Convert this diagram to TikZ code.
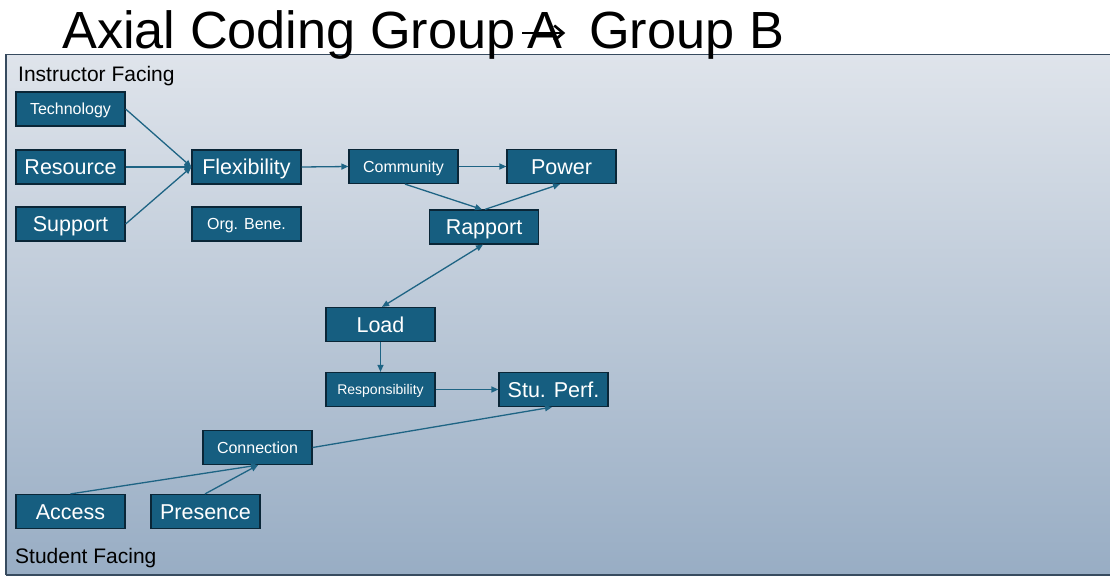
\documentclass[tikz,border=0pt]{standalone}
\usepackage{fontspec}
\setmainfont{Liberation Sans}
\usetikzlibrary{arrows.meta}
\definecolor{bgtop}{RGB}{223,228,235}
\definecolor{bgbot}{RGB}{152,173,196}
\definecolor{bgframe}{RGB}{55,75,95}
\definecolor{nodefill}{RGB}{22,94,128}
\definecolor{nodeframe}{RGB}{10,38,55}
\definecolor{linkcol}{RGB}{30,100,132}
\tikzset{
  box/.style={draw=nodeframe, line width=1.2pt, fill=nodefill, text=white,
    minimum width=109pt, minimum height=34pt, inner sep=0pt, text depth=0pt},
  big/.style={box, font=\fontsize{21.5}{24}\selectfont, text height=15.4pt},
  mid/.style={box, font=\fontsize{16}{18}\selectfont, text height=11.5pt},
  sml/.style={box, font=\fontsize{14}{16}\selectfont, text height=10pt},
  link/.style={draw=linkcol, line width=1.3pt, -{Triangle[length=7pt,width=6pt]}},
  dlink/.style={draw=linkcol, line width=1.3pt,
    {Triangle[length=7pt,width=6pt]}-{Triangle[length=7pt,width=6pt]}},
  lbl/.style={anchor=base west, inner sep=0pt, font=\fontsize{21}{24}\selectfont},
  ttl/.style={anchor=base west, inner sep=0pt, font=\fontsize{52.3}{60}\selectfont}
}
\begin{document}
\begin{tikzpicture}[x=1pt,y=-1pt]
\useasboundingbox (0,0) rectangle (1110,576);
% panel
\shade[top color=bgtop, bottom color=bgbot] (6,54.5) rectangle (1118,575);
\draw[bgframe, line width=1.3pt] (6,575) -- (6,54.5) -- (1118,54.5);
\draw[bgframe, line width=1.3pt] (6,575) -- (1118,575);

% title
\node[ttl] (t1) at (62,48) {Axial Coding Group};
\node[ttl] (t2) at (527,48) {A};
\node[ttl] (t3) at (589,48) {Group B};
\draw[line width=2.6pt, -{Straight Barb[length=9pt,width=15pt,line width=2.6pt]}]
  ([xshift=-5pt,yshift=15pt]t2.base west) -- ([xshift=3pt,yshift=15pt]t2.base east);

% corner labels
\node[lbl] (inst) at (18,81) {Instructor Facing};
\node[lbl] (stud) at (15,563) {Student Facing};

% instructor-facing codes
\node[mid] (tech) at (70.5,109) {Technology};
\node[big] (res)  at (70.5,167) {Resource};
\node[big] (sup)  at (70.5,224) {Support};
\node[big] (flex) at (246.5,167) {Flexibility};
\node[mid] (org)  at (246.5,224) {Org. Bene.};
\node[mid] (comm) at (403.5,166.5) {Community};
\node[big] (pow)  at (561.5,166.5) {Power};
\node[big] (rap)  at (484,227) {Rapport};

% middle codes
\node[big] (load) at (380.5,324.5) {Load};
\node[sml] (resp) at (380.5,389.5) {Responsibility};
\node[big] (stu)  at (553.5,389.5) {Stu. Perf.};

% student-facing codes
\node[mid] (conn) at (257.5,447.5) {Connection};
\node[big] (acc)  at (70.5,511.5) {Access};
\node[big] (pres) at (205.5,511.5) {Presence};

% relations
\draw[link] (tech.east) -- (flex.west);
\draw[link] (res.east) -- (flex.west);
\draw[link] (sup.east) -- (flex.west);
\draw[link] (flex.east) -- (comm.west);
\draw[link] (comm.east) -- (pow.west);
\draw[link] ([xshift=1.5pt]comm.south) -- ([xshift=-2pt]rap.north);
\draw[link] ([xshift=1pt]rap.north) -- ([xshift=-1.5pt]pow.south);
\draw[dlink] ([xshift=-1pt]rap.south) -- ([xshift=1.5pt]load.north);
\draw[link] (load.south) -- (resp.north);
\draw[link] (resp.east) -- (stu.west);
\draw[link] (conn.east) -- ([xshift=-1.5pt]stu.south);
\draw[link] (acc.north) -- ([xshift=0.5pt]conn.south);
\draw[link] ([xshift=-0.5pt]pres.north) -- ([xshift=0.5pt]conn.south);
\end{tikzpicture}
\end{document}
